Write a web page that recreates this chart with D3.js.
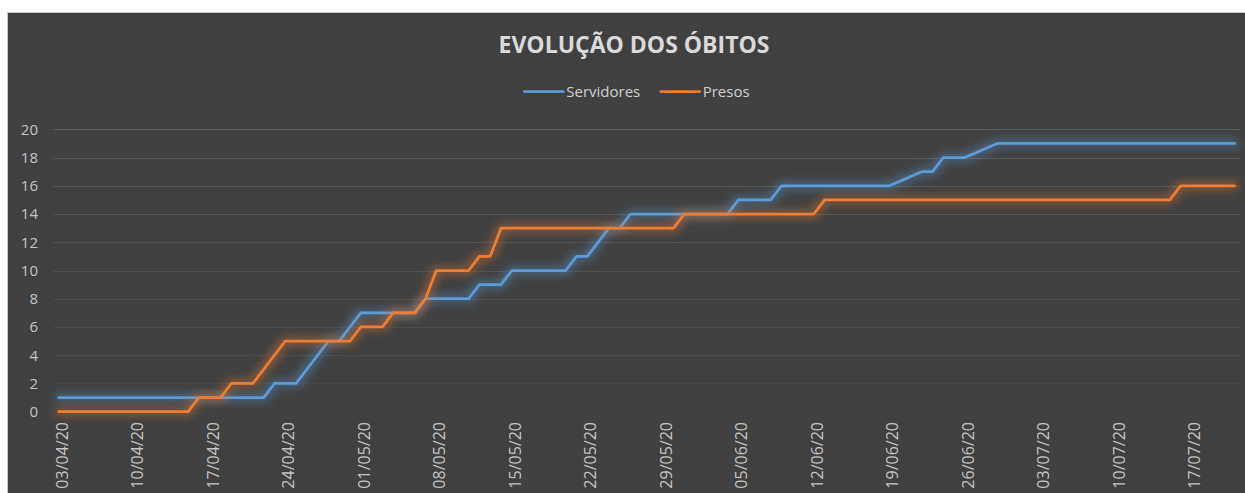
<!DOCTYPE html>
<html>
<head>
<meta charset="utf-8">
<script src="https://cdn.jsdelivr.net/npm/d3@7"></script>
<style>
  html, body { margin: 0; padding: 0; background: #fff; }
  svg { display: block; }
</style>
</head>
<body>
<svg id="chart"></svg>
<script>
// séries diárias, 03/04/20 a 21/07/20 (null = dia sem registro, linha liga os pontos)
const firstDay = new Date(2020, 3, 3);
const lastDay = new Date(2020, 6, 21);

const servidores = [
  1,1,1,1,1,1,1,1,1,1,
  1,1,1,1,1,1,1,1,1,1,
  2,2,2,3,4,5,5,6,7,7,
  7,7,7,7,8,8,8,8,8,9,
  9,9,10,10,10,10,10,10,11,11,
  12,13,13,14,14,14,14,14,14,14,
  14,14,14,15,15,15,15,16,16,16,
  16,16,16,16,16,16,16,16,null,null,
  17,17,18,18,18,null,null,19,19,19,
  19,19,19,19,19,19,19,19,19,19,
  19,19,19,19,19,19,19,19,19,19
];

const presos = [
  0,0,0,0,0,0,0,0,0,0,
  0,0,0,1,1,1,2,2,2,3,
  4,5,5,5,5,5,5,5,6,6,
  6,7,7,7,8,10,10,10,10,11,
  11,13,13,13,13,13,13,13,13,13,
  13,13,13,13,13,13,13,13,14,14,
  14,14,14,14,14,14,14,14,14,14,
  14,15,15,15,15,15,15,15,15,15,
  15,15,15,15,15,15,15,15,15,15,
  15,15,15,15,15,15,15,15,15,15,
  15,15,15,15,16,16,16,16,16,16
];

const xTickLabels = ['03/04/20','10/04/20','17/04/20','24/04/20','01/05/20','08/05/20','15/05/20','22/05/20',
  '29/05/20','05/06/20','12/06/20','19/06/20','26/06/20','03/07/20','10/07/20','17/07/20'];
const yTicks = [0, 2, 4, 6, 8, 10, 12, 14, 16, 18, 20];

const seriesNames = ['Servidores', 'Presos'];
const seriesColors = ['#5b9bd5', '#ed7d31'];

const W = 1245, H = 493;
const svg = d3.select('#chart').attr('width', W).attr('height', H);

// fundo do gráfico
svg.append('rect').attr('x', 7.5).attr('y', 12.5).attr('width', W + 10).attr('height', H + 10)
  .attr('fill', '#404040').attr('stroke', '#c8c8c8');

// brilho suave em volta das linhas
const defs = svg.append('defs');
seriesColors.forEach((c, i) => {
  const f = defs.append('filter').attr('id', 'glow' + i)
    .attr('filterUnits', 'userSpaceOnUse').attr('x', 0).attr('y', 0).attr('width', W).attr('height', H);
  f.append('feMorphology').attr('in', 'SourceGraphic').attr('operator', 'dilate').attr('radius', 2).attr('result', 'd');
  f.append('feGaussianBlur').attr('in', 'd').attr('stdDeviation', 5).attr('result', 'b');
  f.append('feComponentTransfer').attr('in', 'b').attr('result', 'b2')
    .append('feFuncA').attr('type', 'linear').attr('slope', 0.5);
  const m = f.append('feMerge');
  m.append('feMergeNode').attr('in', 'b2');
  m.append('feMergeNode').attr('in', 'SourceGraphic');
});

const fmt = d3.timeFormat('%d/%m/%y');
const days = d3.timeDay.range(firstDay, d3.timeDay.offset(lastDay, 1));

const x = d3.scalePoint().domain(days.map(fmt)).range([53.3, 1240]).padding(0.5);
const y = d3.scaleLinear().domain([0, 20]).range([411.7, 129.3]);

// grade (mais apagada em baixo)
const gridOpacity = d3.scaleLinear().domain([0, 20]).range([0.15, 1]);
svg.append('g').selectAll('line').data(yTicks).join('line')
  .attr('x1', 53.3).attr('x2', 1240)
  .attr('y1', d => Math.round(y(d)) + 0.5).attr('y2', d => Math.round(y(d)) + 0.5)
  .attr('stroke', '#5c5c5c').attr('stroke-opacity', d => gridOpacity(d));

// eixo Y
const yAxis = svg.append('g').attr('transform', 'translate(53,0)')
  .call(d3.axisLeft(y).tickValues(yTicks).tickSize(0).tickPadding(15));
yAxis.select('.domain').remove();
yAxis.selectAll('text').attr('fill', '#c4c4c4').style('font-family', 'Open Sans').style('font-size', '15px');

// eixo X
const xAxis = svg.append('g').attr('transform', 'translate(0,412)')
  .call(d3.axisBottom(x).tickValues(xTickLabels).tickSize(0));
xAxis.select('.domain').remove();
xAxis.selectAll('text')
  .attr('fill', '#c4c4c4').style('font-family', 'Open Sans').style('font-size', '16px')
  .attr('text-anchor', 'end').attr('transform', 'rotate(-90)')
  .attr('x', -10).attr('y', 0).attr('dy', '0.52em');

// linhas
const line = d3.line().x(d => x(d.key)).y(d => y(d.v));
[servidores, presos].forEach((vals, i) => {
  const pts = vals.map((v, j) => ({ key: fmt(days[j]), v })).filter(d => d.v !== null);
  svg.append('path').datum(pts)
    .attr('fill', 'none').attr('stroke', seriesColors[i]).attr('stroke-width', 2.75)
    .attr('stroke-linejoin', 'round').attr('stroke-linecap', 'round')
    .attr('filter', `url(#glow${i})`)
    .attr('d', line);
});

// título
svg.append('text').attr('x', 634).attr('y', 53).attr('text-anchor', 'middle')
  .attr('fill', '#d9d9d9').style('font-family', 'Open Sans').style('font-weight', 700).style('font-size', '23px')
  .text('EVOLUÇÃO DOS ÓBITOS');

// legenda
const legendX = [524.3, 660.7];
const leg = svg.append('g');
seriesNames.forEach((name, i) => {
  leg.append('line').attr('x1', legendX[i]).attr('x2', legendX[i] + 39).attr('y1', 91.5).attr('y2', 91.5)
    .attr('stroke', seriesColors[i]).attr('stroke-width', 2.75).attr('stroke-linecap', 'round');
  leg.append('text').attr('x', legendX[i] + 42).attr('y', 91.5).attr('dy', '0.35em')
    .attr('fill', '#d0d0d0').style('font-family', 'Open Sans').style('font-size', '15px')
    .text(name);
});
</script>
</body>
</html>
